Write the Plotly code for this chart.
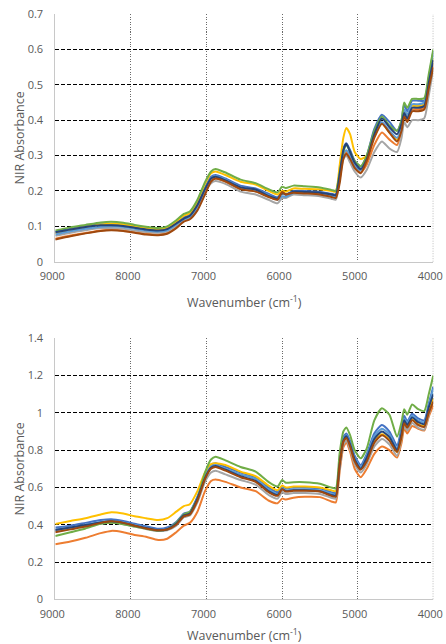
import plotly.graph_objects as go

# Wavenumber grid (cm-1)
wavenumber = [9000, 8800, 8600, 8400, 8260, 8100, 7950, 7800, 7640, 7520, 7400, 7300,
              7220, 7120, 7020, 6940, 6880, 6750, 6550, 6350, 6180, 6060, 6000, 5950,
              5850, 5700, 5500, 5350, 5290, 5240, 5190, 5150, 5100, 5040, 4960, 4880,
              4780, 4680, 4580, 4480, 4420, 4385, 4345, 4280, 4200, 4120, 4060, 4000]

series_names = ["S1", "S2", "S3", "S4", "S5", "S6", "S7", "S8"]
colors = ["#4472C4", "#ED7D31", "#A5A5A5", "#FFC000", "#5B9BD5", "#70AD47", "#264478", "#9E480E"]

# ---- Top panel ----
top_s1 = [.085, .093, .100, .106, .105, .103, .098, .093, .090, .094, .110, .125, .132, .162, .210, .240,
          .245, .235, .215, .207, .192, .182, .195, .190, .200, .200, .198, .192, .190, .250, .320, .335,
          .315, .285, .268, .300, .375, .415, .395, .370, .400, .445, .425, .455, .455, .455, .520, .595]
top_s2 = [.065, .074, .081, .088, .090, .088, .083, .079, .077, .081, .097, .115, .123, .150, .195, .228,
          .235, .226, .205, .199, .184, .176, .195, .190, .195, .195, .190, .185, .183, .235, .300, .310,
          .290, .265, .252, .275, .330, .365, .345, .330, .370, .415, .400, .430, .430, .435, .495, .560]
top_s3 = [.073, .082, .089, .095, .095, .093, .088, .084, .082, .086, .102, .118, .125, .152, .198, .222,
          .228, .220, .198, .190, .175, .165, .180, .180, .190, .188, .185, .178, .175, .230, .290, .300,
          .280, .255, .238, .260, .310, .340, .320, .310, .350, .395, .380, .400, .400, .405, .470, .545]
top_s4 = [.080, .090, .098, .105, .108, .106, .100, .095, .092, .097, .113, .130, .137, .170, .220, .250,
          .255, .245, .226, .218, .200, .190, .200, .198, .207, .206, .205, .200, .198, .270, .350, .378,
          .360, .310, .290, .300, .355, .390, .365, .345, .380, .425, .415, .440, .440, .445, .510, .575]
top_s5 = [.077, .086, .093, .099, .100, .098, .093, .088, .085, .089, .105, .120, .127, .157, .205, .236,
          .242, .232, .210, .202, .188, .175, .185, .183, .195, .195, .193, .187, .185, .240, .305, .315,
          .300, .270, .258, .290, .360, .395, .370, .350, .380, .430, .415, .445, .445, .450, .515, .585]
top_s6 = [.088, .097, .104, .111, .113, .110, .104, .099, .095, .100, .117, .135, .142, .175, .225, .255,
          .262, .252, .232, .222, .205, .196, .212, .208, .215, .213, .210, .203, .200, .250, .310, .330,
          .310, .285, .270, .300, .370, .410, .385, .370, .400, .450, .435, .460, .460, .462, .530, .600]
top_s7 = [.083, .091, .098, .103, .103, .101, .096, .091, .088, .092, .108, .122, .130, .160, .205, .235,
          .240, .230, .210, .204, .186, .178, .195, .190, .198, .197, .195, .190, .188, .245, .315, .333,
          .310, .280, .262, .290, .360, .405, .380, .360, .390, .420, .405, .435, .435, .440, .505, .570]
top_s8 = [.063, .072, .080, .087, .089, .087, .082, .077, .075, .079, .095, .113, .120, .145, .190, .226,
          .235, .227, .205, .198, .183, .175, .197, .190, .195, .193, .190, .183, .180, .220, .290, .305,
          .290, .265, .250, .285, .350, .390, .365, .340, .370, .410, .395, .425, .425, .430, .490, .550]

# ---- Bottom panel ----
bot_s1 = [.385, .395, .410, .425, .430, .420, .405, .392, .378, .385, .415, .460, .470, .550, .660, .720,
          .730, .710, .680, .655, .600, .575, .605, .595, .600, .600, .595, .575, .570, .740, .870, .890,
          .850, .770, .720, .780, .890, .935, .900, .825, .920, .985, .955, .995, .970, .960, 1.05, 1.14]
bot_s2 = [.295, .310, .330, .355, .367, .360, .345, .335, .318, .325, .360, .395, .410, .470, .580, .635,
          .643, .630, .600, .580, .530, .515, .540, .535, .545, .550, .548, .525, .520, .680, .815, .840,
          .790, .700, .655, .700, .780, .820, .800, .760, .840, .915, .890, .930, .915, .905, .980, 1.04]
bot_s3 = [.365, .378, .392, .405, .410, .403, .390, .377, .366, .370, .395, .440, .450, .520, .630, .680,
          .690, .670, .640, .615, .560, .540, .575, .565, .570, .570, .565, .545, .540, .700, .830, .850,
          .805, .725, .680, .725, .820, .860, .830, .770, .860, .930, .905, .945, .920, .910, .990, 1.08]
bot_s4 = [.404, .420, .435, .455, .467, .460, .445, .435, .425, .435, .470, .500, .510, .580, .680, .725,
          .730, .720, .685, .660, .610, .585, .610, .600, .605, .605, .600, .585, .580, .740, .850, .870,
          .830, .750, .705, .750, .850, .885, .855, .790, .875, .950, .925, .965, .940, .930, 1.01, 1.08]
bot_s5 = [.375, .385, .400, .415, .420, .412, .398, .385, .372, .378, .410, .455, .465, .545, .655, .712,
          .720, .700, .670, .645, .590, .565, .595, .585, .590, .590, .585, .567, .562, .730, .860, .880,
          .840, .760, .710, .770, .875, .915, .885, .810, .905, .970, .945, .985, .960, .950, 1.04, 1.13]
bot_s6 = [.340, .360, .380, .405, .410, .403, .390, .378, .368, .375, .410, .455, .470, .540, .680, .750,
          .765, .745, .710, .685, .630, .605, .640, .625, .628, .628, .620, .600, .595, .780, .900, .922,
          .880, .800, .756, .810, .960, 1.025, .990, .872, .950, 1.02, .990, 1.045, 1.02, 1.01, 1.10, 1.20]
bot_s7 = [.372, .385, .398, .412, .418, .410, .395, .383, .370, .376, .405, .450, .460, .540, .650, .705,
          .715, .695, .660, .635, .580, .560, .590, .580, .585, .585, .580, .560, .555, .720, .850, .875,
          .830, .750, .700, .760, .860, .900, .870, .800, .890, .960, .935, .975, .950, .940, 1.03, 1.10]
bot_s8 = [.360, .375, .390, .410, .418, .410, .395, .380, .370, .374, .400, .445, .455, .530, .645, .700,
          .710, .690, .655, .630, .575, .555, .590, .578, .582, .582, .578, .555, .550, .720, .845, .865,
          .820, .740, .695, .740, .840, .880, .850, .790, .870, .945, .920, .960, .935, .925, 1.00, 1.06]

top_series = [top_s1, top_s2, top_s3, top_s4, top_s5, top_s6, top_s7, top_s8]
bot_series = [bot_s1, bot_s2, bot_s3, bot_s4, bot_s5, bot_s6, bot_s7, bot_s8]

x_ticks = [9000, 8000, 7000, 6000, 5000, 4000]

fig = go.Figure()
for name, col, ys in zip(series_names, colors, top_series):
    fig.add_trace(go.Scatter(x=wavenumber, y=ys, mode="lines", name=name,
                             line=dict(color=col, width=2, shape="spline", smoothing=0.6),
                             xaxis="x", yaxis="y", showlegend=False))
for name, col, ys in zip(series_names, colors, bot_series):
    fig.add_trace(go.Scatter(x=wavenumber, y=ys, mode="lines", name=name,
                             line=dict(color=col, width=2, shape="spline", smoothing=0.6),
                             xaxis="x2", yaxis="y2", showlegend=False))

W, H = 446, 644
xdom = [55.3 / W, 433.3 / W]
top_dom = [(H - 261.7) / H, (H - 14) / H]
bot_dom = [(H - 599.3) / H, (H - 338.3) / H]

tickfont = dict(family="Open Sans", size=11, color="#595959")
titlefont = dict(family="Open Sans", size=12.5, color="#595959")

def xax(domain, anchor, standoff):
    return dict(domain=domain, anchor=anchor, range=[9000, 4000], tickvals=x_ticks,
                showgrid=True, gridcolor="#6a6a6a", griddash="1px,1.5px", gridwidth=1,
                showline=True, linecolor="#c8c8c8", linewidth=1, zeroline=False,
                ticks="", tickfont=tickfont, ticklabelstandoff=4, ticklabelshift=3,
                automargin=False,
                title=dict(text="Wavenumber (cm<sup>-1</sup>)", font=titlefont, standoff=standoff))

def yax(domain, anchor, rng, dtick):
    return dict(domain=domain, anchor=anchor, range=rng, dtick=dtick, tick0=0,
                showgrid=True, gridcolor="#000000", griddash="4px,2px", gridwidth=1,
                showline=True, linecolor="#c8c8c8", linewidth=1, zeroline=False,
                ticks="", tickfont=tickfont, ticklabelstandoff=9, automargin=False,
                title=dict(text="NIR Absorbance", font=titlefont, standoff=0))

# right-edge dotted gridline at 4000 (plotly skips gridlines at the plot edge)
edge_lines = []
for xr, yr in (("x", "y domain"), ("x2", "y2 domain")):
    edge_lines.append(dict(type="line", xref=xr, yref=yr, x0=4000, x1=4000, y0=0, y1=1,
                           line=dict(color="#6a6a6a", width=1, dash="1px,1.5px"), layer="below"))

fig.update_layout(
    width=W, height=H, margin=dict(l=0, r=0, t=0, b=0),
    paper_bgcolor="white", plot_bgcolor="white", showlegend=False,
    xaxis=xax(xdom, "y", 16), yaxis=yax(top_dom, "x", [0, 0.7], 0.1),
    xaxis2=xax(xdom, "y2", 12), yaxis2=yax(bot_dom, "x2", [0, 1.4], 0.2),
    shapes=edge_lines,
)

fig.write_html("out.html", config={"displayModeBar": False})

# remove the default page margin so the figure fills the window exactly
with open("out.html", "r", encoding="utf-8") as f:
    html = f.read()
html = html.replace("<head>", "<head><style>html,body{margin:0;padding:0;overflow:hidden;}</style>", 1)
with open("out.html", "w", encoding="utf-8") as f:
    f.write(html)
